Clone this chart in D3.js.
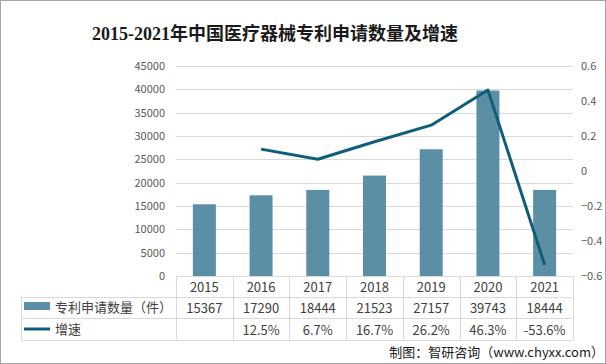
<!DOCTYPE html>
<html><head><meta charset="utf-8">
<script src="https://cdn.jsdelivr.net/npm/d3@7"></script>
<style>body{margin:0;background:#fff}svg{display:block}</style>
</head><body>
<svg id="c" width="606" height="364"></svg>
<script>
const years = ["2015","2016","2017","2018","2019","2020","2021"];
const counts = [15367,17290,18444,21523,27157,39743,18444];
const growth = [null,0.125,0.067,0.167,0.262,0.463,-0.536];
const growthLabels = ["","12.5%","6.7%","16.7%","26.2%","46.3%","-53.6%"];
const leftTicks = [0,5000,10000,15000,20000,25000,30000,35000,40000,45000];
const rightTicks = [-0.6,-0.4,-0.2,0,0.2,0.4,0.6];
const seriesNames = ["专利申请数量（件）","增速"];

const svg = d3.select("#c");
const W=606,H=364;
svg.append("rect").attr("x",0.5).attr("y",0.5).attr("width",W-1).attr("height",H-1).attr("fill","#fff").attr("stroke","#a6a6a6");

const L=176,R=573,T=66,B=276;
const x = d3.scaleBand().domain(years).range([L,R]).paddingInner(0).paddingOuter(0);
const y = d3.scaleLinear().domain([0,45000]).range([B,T]);
const y2 = d3.scaleLinear().domain([-0.6,0.6]).range([B,T]);
const font = "'Noto Sans CJK SC','Microsoft YaHei',sans-serif";

// title
svg.append("text").attr("x",275).attr("y",40).attr("text-anchor","middle")
  .attr("font-family","'Liberation Serif','Noto Sans CJK SC',serif").attr("font-weight","bold")
  .attr("font-size",18).attr("fill","#1a1a1a").text("2015-2021年中国医疗器械专利申请数量及增速");

// gridlines
svg.append("g").selectAll("line").data(leftTicks.filter(d=>d>0)).join("line")
  .attr("x1",L).attr("x2",R).attr("y1",d=>Math.round(y(d))+0.5).attr("y2",d=>Math.round(y(d))+0.5)
  .attr("stroke","#d9d9d9").attr("stroke-width",1);

// left axis
const la = svg.append("g").attr("transform",`translate(${L},0)`)
  .call(d3.axisLeft(y).tickValues(leftTicks).tickSize(0).tickPadding(11).tickFormat(d3.format("d")));
la.select(".domain").remove();
la.selectAll("text").attr("font-family",font).attr("font-size",11).attr("fill","#595959");

// right axis
const ra = svg.append("g").attr("transform",`translate(${R},0)`)
  .call(d3.axisRight(y2).tickValues(rightTicks).tickSize(0).tickPadding(8).tickFormat(d=>d===0?"0":d3.format(".1f")(d)));
ra.select(".domain").remove();
ra.selectAll("text").attr("font-family",font).attr("font-size",11).attr("fill","#595959");

// bars
const bw = 23;
svg.append("g").selectAll("rect").data(counts).join("rect")
  .attr("x",(d,i)=>x(years[i])+x.bandwidth()/2-bw/2).attr("width",bw)
  .attr("y",d=>y(d)).attr("height",d=>B-y(d)).attr("fill","#5b8fa6");

// line
const line = d3.line().defined(d=>d.v!=null).x(d=>x(d.k)+x.bandwidth()/2).y(d=>y2(d.v));
svg.append("path").datum(years.map((k,i)=>({k,v:growth[i]}))).attr("d",line)
  .attr("fill","none").attr("stroke","#0e5e7b").attr("stroke-width",3).attr("stroke-linejoin","round");

// table
const rowY=[276,297,318,340];
const TL=21;
const tg = svg.append("g").attr("stroke","#d9d9d9").attr("stroke-width",1);
tg.append("line").attr("x1",L).attr("x2",R).attr("y1",rowY[0]+0.5).attr("y2",rowY[0]+0.5);
[1,2,3].forEach(i=>tg.append("line").attr("x1",TL).attr("x2",R).attr("y1",rowY[i]+0.5).attr("y2",rowY[i]+0.5));
tg.append("line").attr("x1",TL+0.5).attr("x2",TL+0.5).attr("y1",rowY[1]).attr("y2",rowY[3]);
years.forEach(k=>{const xx=Math.round(x(k))+0.5; tg.append("line").attr("x1",xx).attr("x2",xx).attr("y1",rowY[0]).attr("y2",rowY[3]);});
tg.append("line").attr("x1",R+0.5).attr("x2",R+0.5).attr("y1",rowY[0]).attr("y2",rowY[3]);

const cx = k=>x(k)+x.bandwidth()/2;
const txt = svg.append("g").attr("font-family",font).attr("font-size",13).attr("fill","#404040").attr("text-anchor","middle");
years.forEach((k,i)=>{
  txt.append("text").attr("x",cx(k)).attr("y",292).text(k);
  txt.append("text").attr("x",cx(k)).attr("y",313).text(counts[i]);
  txt.append("text").attr("x",cx(k)).attr("y",335).text(growthLabels[i]);
});

// legend in table
svg.append("rect").attr("x",24).attr("y",302).attr("width",26).attr("height",8).attr("fill","#5b8fa6");
svg.append("line").attr("x1",24).attr("x2",50).attr("y1",329).attr("y2",329).attr("stroke","#0e5e7b").attr("stroke-width",3);
svg.append("text").attr("x",55).attr("y",312).attr("font-family",font).attr("font-size",13).attr("fill","#404040").text(seriesNames[0]);
svg.append("text").attr("x",55).attr("y",334).attr("font-family",font).attr("font-size",13).attr("fill","#404040").text(seriesNames[1]);

// source
svg.append("text").attr("x",604).attr("y",357).attr("text-anchor","end").attr("font-family",font)
  .attr("font-size",13).attr("fill","#1a1a1a").text("制图：智研咨询（www.chyxx.com）");
</script>
</body></html>
